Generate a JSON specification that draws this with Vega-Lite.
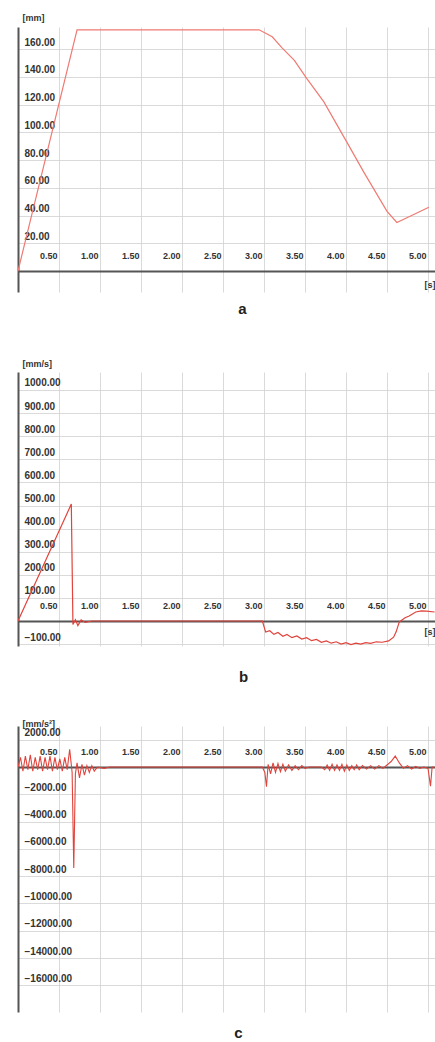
{
  "$schema": "https://vega.github.io/schema/vega-lite/v6.json",
  "padding": {"left": 18, "top": 13, "right": 0, "bottom": 0},
  "background": "white",
  "bounds": "flush",
  "spacing": 80,
  "config": {
    "view": {"stroke": null},
    "font": "Liberation Sans",
    "axis": {
      "labelFont": "Liberation Sans",
      "labelFontWeight": "bold",
      "labelColor": "#333333",
      "titleFont": "Liberation Sans",
      "titleFontWeight": "bold",
      "titleFontSize": 9,
      "titleColor": "#333333",
      "domainColor": "#555555",
      "domainWidth": 2,
      "ticks": false,
      "tickSize": 0,
      "gridColor": "#d0d0d0",
      "gridWidth": 0.8,
      "labelFlush": false,
      "labelOverlap": false,
      "labelBound": false
    },
    "axisX": {"labelFontSize": 9, "labelAlign": "right", "labelPadding": 11, "labelOffset": -2, "labelBaseline": "bottom"},
    "axisY": {"labelFontSize": 10, "labelAlign": "left", "labelPadding": -6, "labelBaseline": "alphabetic", "labelOffset": -4},
    "title": {"font": "Liberation Sans", "fontSize": 15, "fontWeight": "bold", "color": "#222222"}
  },
  "datasets": {
    "posA": [
      {"t": 0, "v": 0}, {"t": 0.72, "v": 174}, {"t": 2.94, "v": 174}, {"t": 3.10, "v": 169},
      {"t": 3.22, "v": 161}, {"t": 3.37, "v": 152}, {"t": 3.52, "v": 139}, {"t": 3.73, "v": 122},
      {"t": 4.01, "v": 93}, {"t": 4.22, "v": 71}, {"t": 4.50, "v": 43}, {"t": 4.62, "v": 35},
      {"t": 4.80, "v": 40}, {"t": 5.01, "v": 46}
    ],
    "velB": [
      {"t": 0, "v": 0}, {"t": 0.65, "v": 506}, {"t": 0.67, "v": -15}, {"t": 0.70, "v": 6},
      {"t": 0.73, "v": -20}, {"t": 0.77, "v": 5}, {"t": 0.82, "v": -6}, {"t": 0.90, "v": 0},
      {"t": 2.98, "v": 0}, {"t": 3.02, "v": -48}, {"t": 3.07, "v": -42}, {"t": 3.12, "v": -58},
      {"t": 3.17, "v": -50}, {"t": 3.23, "v": -66}, {"t": 3.28, "v": -58}, {"t": 3.34, "v": -72},
      {"t": 3.40, "v": -65}, {"t": 3.46, "v": -78}, {"t": 3.52, "v": -72}, {"t": 3.58, "v": -85},
      {"t": 3.64, "v": -80}, {"t": 3.70, "v": -92}, {"t": 3.76, "v": -86}, {"t": 3.82, "v": -96},
      {"t": 3.88, "v": -90}, {"t": 3.94, "v": -100}, {"t": 4.00, "v": -94}, {"t": 4.06, "v": -102},
      {"t": 4.12, "v": -96}, {"t": 4.18, "v": -100}, {"t": 4.24, "v": -94}, {"t": 4.30, "v": -97},
      {"t": 4.37, "v": -90}, {"t": 4.44, "v": -92}, {"t": 4.52, "v": -86}, {"t": 4.58, "v": -70},
      {"t": 4.61, "v": -48}, {"t": 4.65, "v": -4}, {"t": 4.72, "v": 14}, {"t": 4.77, "v": 22},
      {"t": 4.85, "v": 39}, {"t": 4.92, "v": 44}, {"t": 4.98, "v": 43}, {"t": 5.08, "v": 39}
    ],
    "accC": [
      {"t": 0, "v": 0}, {"t": 0.03, "v": 700}, {"t": 0.06, "v": -300}, {"t": 0.09, "v": 800},
      {"t": 0.12, "v": -200}, {"t": 0.15, "v": 900}, {"t": 0.18, "v": -300}, {"t": 0.21, "v": 700},
      {"t": 0.24, "v": -200}, {"t": 0.27, "v": 800}, {"t": 0.30, "v": -300}, {"t": 0.33, "v": 700},
      {"t": 0.36, "v": -200}, {"t": 0.39, "v": 800}, {"t": 0.42, "v": -300}, {"t": 0.45, "v": 700},
      {"t": 0.48, "v": -200}, {"t": 0.51, "v": 600}, {"t": 0.54, "v": -300}, {"t": 0.57, "v": 700},
      {"t": 0.60, "v": -200}, {"t": 0.63, "v": 1300}, {"t": 0.66, "v": -400}, {"t": 0.68, "v": -7400},
      {"t": 0.70, "v": -500}, {"t": 0.72, "v": 300}, {"t": 0.75, "v": -800}, {"t": 0.78, "v": 200},
      {"t": 0.81, "v": -600}, {"t": 0.84, "v": 100}, {"t": 0.87, "v": -400}, {"t": 0.90, "v": 100},
      {"t": 0.93, "v": -300}, {"t": 0.97, "v": 0}, {"t": 1.05, "v": -100}, {"t": 1.12, "v": 0},
      {"t": 2.98, "v": 0}, {"t": 3.01, "v": -400}, {"t": 3.03, "v": -1450}, {"t": 3.05, "v": 200},
      {"t": 3.08, "v": -500}, {"t": 3.11, "v": 300}, {"t": 3.14, "v": -400}, {"t": 3.17, "v": 250},
      {"t": 3.20, "v": -350}, {"t": 3.23, "v": 200}, {"t": 3.26, "v": -300}, {"t": 3.30, "v": 150},
      {"t": 3.34, "v": -250}, {"t": 3.38, "v": 100}, {"t": 3.42, "v": -200}, {"t": 3.46, "v": 100},
      {"t": 3.50, "v": -100}, {"t": 3.55, "v": 0}, {"t": 3.70, "v": 0}, {"t": 3.74, "v": -200},
      {"t": 3.77, "v": 150}, {"t": 3.80, "v": -250}, {"t": 3.83, "v": 200}, {"t": 3.86, "v": -250},
      {"t": 3.89, "v": 150}, {"t": 3.92, "v": -250}, {"t": 3.95, "v": 200}, {"t": 3.98, "v": -300},
      {"t": 4.01, "v": 150}, {"t": 4.04, "v": -250}, {"t": 4.07, "v": 100}, {"t": 4.10, "v": -200},
      {"t": 4.13, "v": 150}, {"t": 4.16, "v": -200}, {"t": 4.20, "v": 100}, {"t": 4.25, "v": -150},
      {"t": 4.30, "v": 100}, {"t": 4.35, "v": -150}, {"t": 4.40, "v": 100}, {"t": 4.45, "v": -100},
      {"t": 4.50, "v": 150}, {"t": 4.55, "v": 400}, {"t": 4.60, "v": 800}, {"t": 4.65, "v": 300},
      {"t": 4.70, "v": -100}, {"t": 4.75, "v": 100}, {"t": 4.80, "v": -150}, {"t": 4.85, "v": 50},
      {"t": 4.90, "v": -100}, {"t": 4.95, "v": 0}, {"t": 5.00, "v": -100}, {"t": 5.03, "v": -1400},
      {"t": 5.05, "v": 0}, {"t": 5.08, "v": 0}
    ]
  },
  "vconcat": [
    {
      "width": 417,
      "height": 265,
      "title": {"text": "a", "orient": "bottom", "frame": "group", "anchor": "middle", "dx": 16, "offset": 10, "baseline": "top"},
      "data": {"name": "posA"},
      "mark": {"type": "line", "color": "#ef7a72", "strokeWidth": 1.2, "clip": true},
      "encoding": {
        "x": {
          "field": "t", "type": "quantitative",
          "scale": {"domain": [0, 5.085], "nice": false, "zero": false},
          "axis": {
            "orient": "top", "offset": -244,
            "values": [0.5, 1, 1.5, 2, 2.5, 3, 3.5, 4, 4.5, 5], "format": ".2f",
            "title": "[s]", "titleX": 417, "titleY": 13, "titleAlign": "right", "titleBaseline": "middle", "titleAngle": 0
          }
        },
        "y": {
          "field": "v", "type": "quantitative",
          "scale": {"domain": [-15.15, 176.05], "nice": false, "zero": false},
          "axis": {
            "values": [20, 40, 60, 80, 100, 120, 140, 160], "format": ".2f",
            "title": "[mm]", "titleX": 4, "titleY": -10, "titleAlign": "left", "titleBaseline": "middle", "titleAngle": 0
          }
        }
      }
    },
    {
      "width": 417,
      "height": 274,
      "title": {"text": "b", "orient": "bottom", "frame": "group", "anchor": "middle", "dx": 17, "offset": 24, "baseline": "top"},
      "data": {"name": "velB"},
      "mark": {"type": "line", "color": "#e0443c", "strokeWidth": 1.2, "clip": true},
      "encoding": {
        "x": {
          "field": "t", "type": "quantitative",
          "scale": {"domain": [0, 5.085], "nice": false, "zero": false},
          "axis": {
            "orient": "top", "offset": -249,
            "values": [0.5, 1, 1.5, 2, 2.5, 3, 3.5, 4, 4.5, 5], "format": ".2f",
            "title": "[s]", "titleX": 417, "titleY": 10, "titleAlign": "right", "titleBaseline": "middle", "titleAngle": 0
          }
        },
        "y": {
          "field": "v", "type": "quantitative",
          "scale": {"domain": [-108.2, 1077.9], "nice": false, "zero": false},
          "axis": {
            "values": [-100, 100, 200, 300, 400, 500, 600, 700, 800, 900, 1000], "format": ".2f",
            "title": "[mm/s]", "titleX": 4, "titleY": -9, "titleAlign": "left", "titleBaseline": "middle", "titleAngle": 0
          }
        }
      }
    },
    {
      "width": 417,
      "height": 286,
      "title": {"text": "c", "orient": "bottom", "frame": "group", "anchor": "middle", "dx": 12, "offset": 14, "baseline": "top"},
      "data": {"name": "accC"},
      "mark": {"type": "line", "color": "#e0443c", "strokeWidth": 1.1, "clip": true},
      "encoding": {
        "x": {
          "field": "t", "type": "quantitative",
          "scale": {"domain": [0, 5.085], "nice": false, "zero": false},
          "axis": {
            "orient": "top", "offset": -41,
            "values": [0.5, 1, 1.5, 2, 2.5, 3, 3.5, 4, 4.5, 5], "format": ".2f",
            "title": null
          }
        },
        "y": {
          "field": "v", "type": "quantitative",
          "scale": {"domain": [-17949, 3004], "nice": false, "zero": false},
          "axis": {
            "values": [2000, -2000, -4000, -6000, -8000, -10000, -12000, -14000, -16000], "format": ".2f",
            "title": "[mm/s²]", "titleX": 4, "titleY": -3, "titleAlign": "left", "titleBaseline": "middle", "titleAngle": 0
          }
        }
      }
    }
  ]
}
